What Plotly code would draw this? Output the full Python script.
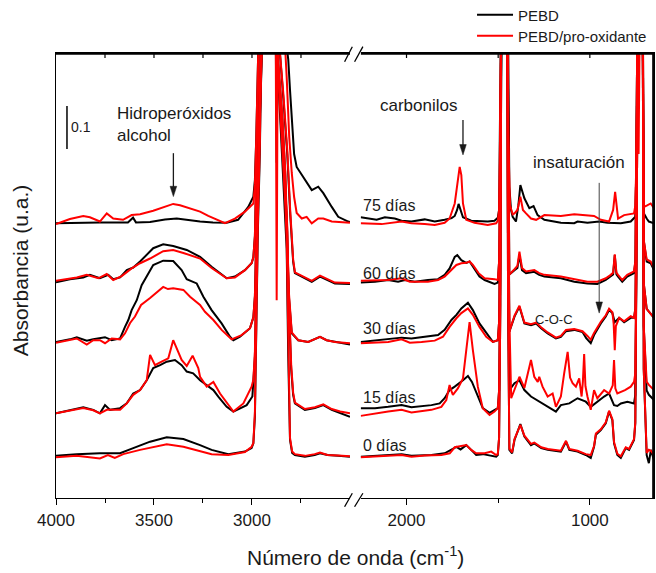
import plotly.graph_objects as go

FONT = "Liberation Sans, Arial, sans-serif"
INK = "#1a1a1a"

# FTIR spectra, (wavenumber cm-1, absorbance) with the vertical offsets of the stack
PEBD_0 = [
    (4000, 0.098), (3895, 0.102), (3776, 0.104), (3673, 0.104), (3606, 0.116), (3520, 0.131),
    (3435, 0.141), (3350, 0.137), (3265, 0.123), (3206, 0.112), (3121, 0.102), (3036, 0.108),
    (3002, 0.116), (2993, 0.127), (2985, 0.19), (2978, 0.42), (2970, 0.62), (2960, 0.80),
    (2950, 0.97), (2940, 1.2), (2920, 2.0), (2900, 1.8), (2885, 1.15), (2865, 0.97),
    (2845, 0.80), (2830, 0.66), (2823, 0.58), (2815, 0.33), (2806, 0.135), (2795, 0.105),
    (2781, 0.100), (2730, 0.096), (2680, 0.100), (2653, 0.104), (2615, 0.100), (2560, 0.098),
    (2500, 0.096),
    (2250, 0.096), (2170, 0.098), (2100, 0.100), (2027, 0.102), (1973, 0.098), (1864, 0.100),
    (1792, 0.104), (1755, 0.112), (1728, 0.119), (1705, 0.113), (1674, 0.123), (1647, 0.112),
    (1620, 0.100), (1584, 0.102), (1557, 0.100), (1511, 0.096), (1502, 0.100), (1495, 0.14),
    (1488, 0.45), (1482, 1.4), (1472, 2.2), (1466, 1.7), (1460, 2.2), (1452, 1.3), (1446, 0.45),
    (1439, 0.112), (1424, 0.104), (1411, 0.135), (1379, 0.172), (1357, 0.143), (1321, 0.123),
    (1303, 0.127), (1265, 0.116), (1230, 0.112), (1158, 0.108), (1130, 0.131), (1112, 0.112),
    (1067, 0.108), (1022, 0.100), (995, 0.093), (977, 0.119), (967, 0.147), (940, 0.158),
    (913, 0.174), (895, 0.201), (877, 0.181), (868, 0.127), (850, 0.100), (831, 0.093),
    (804, 0.116), (786, 0.112), (759, 0.135), (752, 0.174), (745, 0.6), (738, 1.4), (730, 1.6),
    (724, 1.3), (719, 2.0), (712, 1.2), (706, 0.3), (690, 0.100), (678, 0.081), (667, 0.112),
    (650, 0.088),
]
PRO_0 = [
    (4000, 0.095), (3895, 0.098), (3776, 0.092), (3735, 0.100), (3700, 0.093), (3657, 0.102),
    (3571, 0.112), (3486, 0.121), (3435, 0.125), (3350, 0.119), (3265, 0.110), (3206, 0.102),
    (3121, 0.100), (3036, 0.107), (3002, 0.119), (2993, 0.128), (2985, 0.20), (2978, 0.44),
    (2970, 0.64), (2960, 0.82), (2950, 0.99), (2940, 1.2), (2920, 2.0), (2900, 1.8),
    (2885, 1.15), (2865, 0.98), (2845, 0.82), (2830, 0.68), (2823, 0.60), (2815, 0.35),
    (2806, 0.14), (2795, 0.108), (2781, 0.102), (2730, 0.098), (2680, 0.102), (2653, 0.106),
    (2615, 0.100), (2560, 0.099), (2500, 0.097),
    (2250, 0.095), (2170, 0.097), (2100, 0.098), (2027, 0.100), (1973, 0.096), (1900, 0.099),
    (1810, 0.100), (1764, 0.104), (1737, 0.118), (1701, 0.121), (1674, 0.123), (1647, 0.112),
    (1620, 0.104), (1574, 0.104), (1538, 0.108), (1511, 0.100), (1502, 0.102), (1495, 0.14),
    (1488, 0.45), (1482, 1.4), (1472, 2.2), (1466, 1.7), (1460, 2.2), (1452, 1.3), (1446, 0.45),
    (1439, 0.115), (1424, 0.106), (1411, 0.137), (1379, 0.170), (1357, 0.145), (1321, 0.126),
    (1303, 0.129), (1265, 0.118), (1230, 0.114), (1158, 0.110), (1130, 0.133), (1112, 0.114),
    (1067, 0.110), (1022, 0.102), (995, 0.100), (977, 0.121), (967, 0.150), (940, 0.160),
    (913, 0.176), (895, 0.203), (877, 0.183), (868, 0.130), (850, 0.103), (831, 0.097),
    (804, 0.118), (786, 0.114), (759, 0.137), (752, 0.176), (745, 0.6), (738, 1.4), (730, 1.6),
    (724, 1.3), (719, 2.0), (712, 1.2), (706, 0.3), (690, 0.105), (678, 0.112), (667, 0.110),
    (650, 0.100),
]
PEBD_15 = [
    (4000, 0.197), (3929, 0.205), (3861, 0.211), (3810, 0.205), (3776, 0.197), (3750, 0.216),
    (3724, 0.205), (3673, 0.209), (3639, 0.220), (3606, 0.243), (3571, 0.251), (3537, 0.274),
    (3504, 0.302), (3469, 0.309), (3435, 0.317), (3393, 0.321), (3359, 0.309), (3333, 0.294),
    (3300, 0.290), (3265, 0.274), (3197, 0.251), (3172, 0.236), (3129, 0.212), (3095, 0.201),
    (3027, 0.216), (2998, 0.236), (2993, 0.267), (2985, 0.33), (2978, 0.52), (2970, 0.72),
    (2960, 0.88), (2950, 1.02), (2940, 1.2), (2920, 2.0), (2900, 1.8), (2885, 1.15),
    (2865, 1.0), (2845, 0.85), (2830, 0.72), (2820, 0.62), (2812, 0.45), (2800, 0.30),
    (2790, 0.24), (2781, 0.220), (2730, 0.205), (2679, 0.209), (2636, 0.216), (2593, 0.205),
    (2550, 0.198), (2500, 0.189),
    (2250, 0.209), (2172, 0.209), (2100, 0.212), (2027, 0.216), (1973, 0.211), (1864, 0.216),
    (1819, 0.220), (1792, 0.232), (1765, 0.251), (1737, 0.259), (1692, 0.274), (1665, 0.284),
    (1643, 0.270), (1611, 0.236), (1584, 0.209), (1547, 0.198), (1520, 0.205), (1502, 0.209),
    (1495, 0.25), (1488, 0.55), (1482, 1.4), (1472, 2.2), (1466, 1.7), (1460, 2.2), (1452, 1.3),
    (1446, 0.55), (1439, 0.251), (1411, 0.267), (1384, 0.274), (1357, 0.251), (1321, 0.236),
    (1276, 0.224), (1230, 0.212), (1185, 0.201), (1158, 0.216), (1112, 0.220), (1067, 0.232),
    (1022, 0.224), (995, 0.212), (959, 0.224), (922, 0.236), (895, 0.243), (868, 0.216),
    (850, 0.214), (831, 0.220), (795, 0.224), (759, 0.220), (752, 0.24), (745, 0.6), (738, 1.4),
    (730, 1.6), (724, 1.3), (719, 2.0), (712, 1.2), (706, 0.4), (690, 0.25), (678, 0.240),
    (650, 0.228),
]
PRO_15 = [
    (4000, 0.197), (3930, 0.203), (3861, 0.209), (3810, 0.204), (3776, 0.197), (3741, 0.205),
    (3673, 0.205), (3639, 0.220), (3606, 0.240), (3571, 0.251), (3537, 0.274), (3520, 0.333),
    (3495, 0.309), (3461, 0.317), (3427, 0.325), (3402, 0.367), (3378, 0.340), (3359, 0.321),
    (3333, 0.307), (3303, 0.331), (3274, 0.302), (3265, 0.282), (3231, 0.259), (3197, 0.270),
    (3163, 0.243), (3095, 0.201), (3044, 0.220), (3002, 0.259), (2993, 0.275), (2985, 0.34),
    (2978, 0.53), (2970, 0.73), (2960, 0.89), (2950, 1.03), (2940, 1.2), (2920, 2.0),
    (2900, 1.8), (2885, 1.15), (2865, 1.0), (2845, 0.86), (2830, 0.73), (2820, 0.63),
    (2812, 0.46), (2800, 0.31), (2790, 0.245), (2781, 0.222), (2730, 0.207), (2679, 0.211),
    (2636, 0.218), (2593, 0.207), (2550, 0.201), (2500, 0.197),
    (2250, 0.191), (2172, 0.197), (2100, 0.201), (2027, 0.205), (1973, 0.199), (1864, 0.205),
    (1810, 0.212), (1783, 0.228), (1770, 0.256), (1765, 0.263), (1757, 0.251), (1747, 0.240),
    (1720, 0.255), (1692, 0.278), (1674, 0.344), (1656, 0.409), (1638, 0.344), (1611, 0.259),
    (1584, 0.209), (1547, 0.193), (1520, 0.201), (1502, 0.209), (1495, 0.25), (1488, 0.55),
    (1482, 1.4), (1472, 2.2), (1466, 1.7), (1460, 2.2), (1452, 1.3), (1446, 0.55), (1429, 0.232),
    (1384, 0.282), (1357, 0.256), (1321, 0.321), (1303, 0.282), (1284, 0.270), (1276, 0.282),
    (1258, 0.259), (1230, 0.236), (1203, 0.243), (1185, 0.212), (1158, 0.236), (1140, 0.290),
    (1121, 0.340), (1108, 0.280), (1094, 0.267), (1076, 0.259), (1058, 0.278), (1045, 0.236),
    (1038, 0.270), (1031, 0.335), (1024, 0.260), (1013, 0.236), (995, 0.205), (977, 0.251),
    (959, 0.232), (922, 0.251), (895, 0.243), (875, 0.262), (868, 0.321), (861, 0.255),
    (850, 0.243), (808, 0.251), (777, 0.259), (759, 0.270), (752, 0.29), (745, 0.6), (738, 1.4),
    (730, 1.6), (724, 1.3), (719, 2.0), (712, 1.2), (706, 0.4), (690, 0.27), (678, 0.263),
    (650, 0.251),
]
PEBD_30 = [
    (4000, 0.363), (3929, 0.369), (3894, 0.374), (3843, 0.366), (3810, 0.369), (3750, 0.374),
    (3716, 0.367), (3673, 0.371), (3648, 0.398), (3631, 0.414), (3614, 0.437), (3588, 0.460),
    (3563, 0.495), (3537, 0.515), (3504, 0.542), (3453, 0.552), (3402, 0.551), (3359, 0.530),
    (3333, 0.509), (3282, 0.499), (3265, 0.484), (3248, 0.468), (3206, 0.437), (3155, 0.406),
    (3112, 0.375), (3095, 0.367), (3061, 0.375), (3010, 0.395), (2993, 0.42), (2985, 0.47),
    (2978, 0.62), (2970, 0.80), (2960, 0.95), (2950, 1.08), (2940, 1.25), (2920, 2.0),
    (2900, 1.8), (2885, 1.15), (2865, 1.0), (2845, 0.88), (2830, 0.75), (2823, 0.62),
    (2812, 0.47), (2797, 0.383), (2764, 0.367), (2713, 0.363), (2653, 0.375), (2619, 0.367),
    (2577, 0.363), (2500, 0.357),
    (2250, 0.363), (2172, 0.367), (2100, 0.371), (2027, 0.373), (1973, 0.371), (1883, 0.375),
    (1828, 0.379), (1792, 0.391), (1755, 0.414), (1728, 0.426), (1701, 0.441), (1665, 0.454),
    (1638, 0.437), (1602, 0.406), (1565, 0.383), (1529, 0.363), (1502, 0.367), (1495, 0.41),
    (1488, 0.7), (1482, 1.4), (1472, 2.2), (1466, 1.7), (1460, 2.2), (1452, 1.3), (1446, 0.7),
    (1439, 0.387), (1411, 0.422), (1384, 0.445), (1357, 0.406), (1321, 0.402), (1293, 0.406),
    (1266, 0.395), (1230, 0.383), (1185, 0.371), (1158, 0.375), (1130, 0.388), (1085, 0.391),
    (1040, 0.386), (1020, 0.372), (995, 0.360), (977, 0.379), (940, 0.406), (913, 0.422),
    (895, 0.437), (877, 0.430), (864, 0.409), (840, 0.419), (813, 0.409), (777, 0.419),
    (759, 0.419), (752, 0.44), (745, 0.7), (738, 1.4), (730, 1.6), (724, 1.3), (719, 2.0),
    (712, 1.2), (706, 0.5), (690, 0.44), (678, 0.433), (650, 0.419),
]
PRO_30 = [
    (4000, 0.361), (3894, 0.371), (3843, 0.357), (3810, 0.367), (3776, 0.367), (3750, 0.360),
    (3716, 0.371), (3673, 0.369), (3648, 0.383), (3622, 0.407), (3597, 0.422), (3566, 0.449),
    (3520, 0.465), (3453, 0.491), (3429, 0.486), (3402, 0.488), (3350, 0.484), (3316, 0.468),
    (3265, 0.449), (3240, 0.433), (3197, 0.414), (3155, 0.391), (3104, 0.369), (3053, 0.379),
    (3010, 0.395), (2993, 0.42), (2985, 0.47), (2978, 0.63), (2970, 0.81), (2960, 0.96),
    (2950, 1.09), (2940, 1.25), (2920, 2.0), (2900, 1.8), (2885, 1.3), (2879, 1.1),
    (2874, 0.46), (2869, 1.05), (2865, 1.01), (2845, 0.89), (2830, 0.76), (2823, 0.63),
    (2812, 0.48), (2797, 0.385), (2764, 0.367), (2713, 0.363), (2653, 0.375), (2619, 0.367),
    (2577, 0.363), (2500, 0.360),
    (2250, 0.360), (2172, 0.361), (2100, 0.363), (2027, 0.369), (1982, 0.361), (1918, 0.363),
    (1846, 0.366), (1801, 0.375), (1765, 0.398), (1728, 0.418), (1701, 0.430), (1665, 0.441),
    (1638, 0.426), (1602, 0.398), (1565, 0.375), (1529, 0.363), (1502, 0.367), (1495, 0.41),
    (1488, 0.7), (1482, 1.4), (1472, 2.2), (1466, 1.7), (1460, 2.2), (1452, 1.3), (1446, 0.7),
    (1439, 0.387), (1411, 0.424), (1384, 0.447), (1357, 0.408), (1321, 0.404), (1293, 0.408),
    (1266, 0.397), (1230, 0.385), (1185, 0.373), (1158, 0.377), (1130, 0.391), (1085, 0.393),
    (1040, 0.388), (1013, 0.377), (995, 0.368), (977, 0.384), (940, 0.410), (913, 0.425),
    (895, 0.440), (877, 0.432), (870, 0.405), (864, 0.344), (858, 0.400), (840, 0.419),
    (813, 0.411), (777, 0.423), (759, 0.419), (752, 0.44), (745, 0.7), (738, 1.4), (730, 1.6),
    (724, 1.3), (719, 2.0), (712, 1.2), (706, 0.5), (690, 0.44), (678, 0.433), (650, 0.419),
]
PEBD_60 = [
    (4000, 0.502), (3929, 0.509), (3861, 0.513), (3827, 0.519), (3776, 0.511), (3733, 0.519),
    (3708, 0.509), (3673, 0.513), (3639, 0.530), (3606, 0.536), (3571, 0.550), (3537, 0.565),
    (3504, 0.581), (3453, 0.590), (3402, 0.586), (3333, 0.577), (3265, 0.561), (3206, 0.538),
    (3129, 0.511), (3087, 0.515), (3036, 0.530), (3002, 0.546), (2993, 0.56), (2985, 0.61),
    (2978, 0.74), (2970, 0.90), (2960, 1.03), (2950, 1.2), (2920, 2.0), (2900, 1.8),
    (2880, 1.2), (2860, 1.05), (2840, 0.93), (2820, 0.80), (2805, 0.66), (2797, 0.60),
    (2790, 0.55), (2781, 0.523), (2746, 0.515), (2695, 0.503), (2653, 0.515), (2619, 0.507),
    (2577, 0.499), (2500, 0.498),
    (2250, 0.501), (2172, 0.503), (2100, 0.507), (2046, 0.503), (2009, 0.507), (1955, 0.503),
    (1883, 0.507), (1828, 0.509), (1792, 0.519), (1765, 0.534), (1737, 0.561), (1723, 0.565),
    (1701, 0.553), (1674, 0.547), (1656, 0.550), (1629, 0.534), (1602, 0.515), (1574, 0.507),
    (1547, 0.503), (1520, 0.498), (1502, 0.501), (1495, 0.55), (1488, 0.8), (1482, 1.4),
    (1472, 2.2), (1466, 1.7), (1460, 2.2), (1452, 1.3), (1446, 0.8), (1439, 0.520),
    (1411, 0.530), (1395, 0.535), (1384, 0.565), (1370, 0.530), (1348, 0.523), (1303, 0.526),
    (1276, 0.519), (1248, 0.515), (1158, 0.511), (1085, 0.503), (1013, 0.499), (959, 0.498),
    (913, 0.507), (886, 0.515), (873, 0.520), (864, 0.565), (855, 0.520), (846, 0.515),
    (823, 0.503), (796, 0.515), (759, 0.523), (752, 0.55), (745, 0.8), (738, 1.4), (730, 1.6),
    (724, 1.3), (719, 2.0), (712, 1.2), (706, 0.6), (690, 0.55), (668, 0.546), (650, 0.530),
]
PRO_60 = [
    (4000, 0.505), (3894, 0.513), (3843, 0.519), (3784, 0.511), (3741, 0.521), (3708, 0.507),
    (3665, 0.516), (3614, 0.534), (3571, 0.546), (3520, 0.557), (3453, 0.574), (3402, 0.577),
    (3350, 0.570), (3265, 0.557), (3206, 0.535), (3129, 0.511), (3087, 0.513), (3036, 0.530),
    (3002, 0.546), (2993, 0.56), (2985, 0.61), (2978, 0.75), (2970, 0.91), (2960, 1.04),
    (2950, 1.2), (2920, 2.0), (2900, 1.8), (2880, 1.2), (2860, 1.05), (2840, 0.94),
    (2820, 0.81), (2805, 0.67), (2797, 0.61), (2790, 0.555), (2781, 0.525), (2746, 0.517),
    (2695, 0.505), (2653, 0.517), (2619, 0.509), (2577, 0.501), (2500, 0.500),
    (2250, 0.505), (2100, 0.507), (2027, 0.511), (1982, 0.503), (1883, 0.503), (1828, 0.507),
    (1792, 0.515), (1765, 0.526), (1728, 0.542), (1701, 0.546), (1674, 0.547), (1656, 0.550),
    (1638, 0.542), (1607, 0.523), (1574, 0.511), (1520, 0.509), (1502, 0.507), (1495, 0.55),
    (1488, 0.8), (1482, 1.4), (1472, 2.2), (1466, 1.7), (1460, 2.2), (1452, 1.3), (1446, 0.8),
    (1439, 0.520), (1411, 0.532), (1395, 0.540), (1384, 0.573), (1370, 0.535), (1348, 0.527),
    (1303, 0.530), (1276, 0.523), (1248, 0.519), (1158, 0.515), (1085, 0.509), (1013, 0.503),
    (959, 0.503), (913, 0.511), (886, 0.519), (873, 0.524), (864, 0.567), (855, 0.524),
    (846, 0.519), (823, 0.507), (796, 0.519), (759, 0.527), (752, 0.55), (745, 0.8), (738, 1.4),
    (730, 1.6), (724, 1.3), (719, 2.0), (712, 1.2), (706, 0.6), (690, 0.555), (668, 0.550),
    (650, 0.535),
]
PEBD_75 = [
    (4000, 0.639), (3878, 0.641), (3776, 0.641), (3673, 0.641), (3633, 0.641), (3607, 0.652),
    (3592, 0.641), (3520, 0.642), (3444, 0.648), (3384, 0.650), (3316, 0.645), (3265, 0.643),
    (3199, 0.641), (3129, 0.640), (3071, 0.647), (3019, 0.677), (2993, 0.701), (2985, 0.74),
    (2978, 0.84), (2970, 0.97), (2960, 1.1), (2950, 1.3), (2920, 2.0), (2900, 1.8),
    (2882, 1.3), (2874, 0.78), (2866, 1.25), (2850, 1.15), (2830, 1.08), (2815, 1.02),
    (2806, 0.949), (2797, 0.879), (2785, 0.80), (2772, 0.770), (2730, 0.740), (2695, 0.716),
    (2662, 0.724), (2636, 0.709), (2593, 0.677), (2560, 0.654), (2509, 0.643), (2500, 0.642),
    (2250, 0.653), (2190, 0.648), (2163, 0.647), (2118, 0.653), (2064, 0.650), (2027, 0.645),
    (1973, 0.643), (1901, 0.648), (1846, 0.643), (1792, 0.647), (1754, 0.651), (1737, 0.656),
    (1724, 0.670), (1716, 0.684), (1706, 0.670), (1692, 0.653), (1647, 0.645), (1557, 0.643),
    (1520, 0.645), (1502, 0.652), (1495, 0.67), (1488, 0.9), (1482, 1.4), (1472, 2.2),
    (1466, 1.7), (1460, 2.2), (1450, 1.3), (1443, 0.85), (1439, 0.724), (1430, 0.670),
    (1421, 0.654), (1403, 0.643), (1390, 0.680), (1379, 0.728), (1357, 0.697), (1330, 0.674),
    (1307, 0.679), (1285, 0.658), (1248, 0.647), (1158, 0.640), (1085, 0.639), (1067, 0.643),
    (1013, 0.640), (949, 0.643), (904, 0.640), (831, 0.639), (777, 0.643), (752, 0.654),
    (745, 0.8), (738, 1.4), (730, 1.6), (724, 1.3), (719, 2.0), (712, 1.2), (705, 0.662),
    (690, 0.650), (678, 0.643), (650, 0.639),
]
PRO_75 = [
    (4000, 0.637), (3929, 0.649), (3861, 0.656), (3827, 0.653), (3776, 0.643), (3741, 0.662),
    (3708, 0.650), (3658, 0.647), (3614, 0.658), (3571, 0.660), (3504, 0.668), (3435, 0.680),
    (3402, 0.684), (3367, 0.681), (3316, 0.674), (3265, 0.666), (3223, 0.656), (3138, 0.639),
    (3087, 0.650), (3036, 0.666), (2993, 0.685), (2985, 0.73), (2978, 0.84), (2970, 0.97),
    (2960, 1.1), (2950, 1.3), (2920, 2.0), (2900, 1.8), (2870, 1.2), (2850, 1.1), (2830, 1.04),
    (2823, 0.98), (2810, 0.84), (2797, 0.756), (2785, 0.700), (2772, 0.663), (2746, 0.650),
    (2721, 0.654), (2695, 0.639), (2662, 0.650), (2636, 0.650), (2593, 0.643), (2509, 0.640),
    (2500, 0.640),
    (2250, 0.639), (2136, 0.637), (2027, 0.643), (1973, 0.639), (1901, 0.637), (1846, 0.635),
    (1792, 0.640), (1765, 0.650), (1737, 0.685), (1724, 0.728), (1710, 0.770), (1701, 0.751),
    (1692, 0.685), (1674, 0.647), (1629, 0.640), (1557, 0.635), (1511, 0.639), (1502, 0.645),
    (1495, 0.67), (1488, 0.9), (1482, 1.4), (1472, 2.2), (1466, 1.7), (1460, 2.2), (1452, 1.3),
    (1446, 0.85), (1435, 0.680), (1421, 0.660), (1411, 0.662), (1395, 0.670), (1379, 0.701),
    (1365, 0.670), (1348, 0.662), (1321, 0.650), (1293, 0.647), (1248, 0.658), (1158, 0.656),
    (1085, 0.660), (977, 0.656), (940, 0.647), (895, 0.643), (873, 0.670), (862, 0.712),
    (853, 0.681), (846, 0.650), (813, 0.658), (759, 0.662), (752, 0.68), (748, 0.75), (740, 0.98),
    (734, 0.80), (728, 1.1), (720, 2.0), (712, 1.2), (705, 0.677), (690, 0.680), (668, 0.685),
    (650, 0.674),
]

DAY_LABELS = ["0 días", "15 días", "30 días", "60 días", "75 días"]
SERIES = [
    ("PEBD", "#000000", "legend", [PEBD_0, PEBD_15, PEBD_30, PEBD_60, PEBD_75]),
    ("PEBD/pro-oxidante", "#ff0000", "legend2", [PRO_0, PRO_15, PRO_30, PRO_60, PRO_75]),
]

LEFT_RANGE = [4000, 2500]
RIGHT_RANGE = [2250, 650]
Y_RANGE = [0, 1.035]
LEFT_TOP_TICKS = [3750, 3500, 3250, 3000, 2750]
RIGHT_TOP_TICKS = [2000, 1500, 1000]

fig = go.Figure()
for name, color, leg, spectra in SERIES:
    for i, spec in enumerate(spectra):
        left = [p for p in spec if p[0] >= LEFT_RANGE[1]]
        right = [p for p in spec if p[0] <= RIGHT_RANGE[0]]
        fig.add_trace(go.Scatter(
            x=[p[0] for p in left], y=[p[1] for p in left], xaxis="x", yaxis="y",
            mode="lines", line=dict(color=color, width=2), name=name, legend=leg,
            legendgroup=name, showlegend=(i == 0), hoverinfo="skip"))
        fig.add_trace(go.Scatter(
            x=[p[0] for p in right], y=[p[1] for p in right], xaxis="x2", yaxis="y2",
            mode="lines", line=dict(color=color, width=2), name=name, legend=leg,
            legendgroup=name, showlegend=False, hoverinfo="skip"))

# frame edges along the top of both panels and the right side, drawn just inside the
# plot area so they are never lost to clipping
FRAME_LINE = dict(color="black", width=1.8)
TOP_EDGE = Y_RANGE[1] - 0.0022
RIGHT_EDGE = RIGHT_RANGE[1] + 5
fig.add_trace(go.Scatter(x=LEFT_RANGE, y=[TOP_EDGE, TOP_EDGE], xaxis="x", yaxis="y",
                         mode="lines", line=FRAME_LINE, showlegend=False, hoverinfo="skip"))
fig.add_trace(go.Scatter(x=RIGHT_RANGE, y=[TOP_EDGE, TOP_EDGE], xaxis="x2", yaxis="y2",
                         mode="lines", line=FRAME_LINE, showlegend=False, hoverinfo="skip"))
fig.add_trace(go.Scatter(x=[RIGHT_EDGE, RIGHT_EDGE], y=Y_RANGE, xaxis="x2",
                         yaxis="y2", mode="lines", line=FRAME_LINE, showlegend=False,
                         hoverinfo="skip"))

# plot area 56..654 px wide (598 px); the break sits between the two domains
LEFT_DOM = [0, 0.4916]
RIGHT_DOM = [0.5095, 1]
axis_common = dict(showline=True, linecolor="black", linewidth=1.3, showgrid=False,
                   zeroline=False, tickcolor="black", tickwidth=1.2,
                   tickfont=dict(family=FONT, size=17, color=INK))
legend_common = dict(xanchor="left", yanchor="middle", bgcolor="rgba(0,0,0,0)",
                     font=dict(family=FONT, size=15, color=INK), itemwidth=36)

fig.update_layout(
    width=656, height=573,
    margin=dict(l=56, r=2, t=53, b=75, autoexpand=False),
    paper_bgcolor="white", plot_bgcolor="white",
    font=dict(family=FONT, color=INK),
    xaxis=dict(domain=LEFT_DOM, range=LEFT_RANGE, anchor="y", tickvals=[4000, 3500, 3000],
               ticks="outside", ticklen=6, mirror=True,
               minor=dict(tickvals=[3750, 3250, 2750], ticks="outside", ticklen=4,
                          tickcolor="black", tickwidth=1.2),
               **axis_common),
    xaxis2=dict(domain=RIGHT_DOM, range=RIGHT_RANGE, anchor="y2", tickvals=[2000, 1000],
                ticks="outside", ticklen=6, mirror=True,
                minor=dict(tickvals=[1500], ticks="outside", ticklen=4,
                           tickcolor="black", tickwidth=1.2),
                **axis_common),
    yaxis=dict(domain=[0, 1], range=Y_RANGE, anchor="x", showticklabels=False, ticks="",
               **axis_common),
    yaxis2=dict(domain=[0, 1], range=Y_RANGE, anchor="x2", side="right",
                showticklabels=False, ticks="", **axis_common),
    legend=dict(x=0.6957, y=1.0854, **legend_common),
    legend2=dict(x=0.6957, y=1.0382, **legend_common),
    showlegend=True,
)

annotations = []
# sample ages
DAY_POS = [0.123, 0.234, 0.395, 0.523, 0.681]
for lab, yv in zip(DAY_LABELS, DAY_POS):
    annotations.append(dict(x=2246, y=yv, xref="x2", yref="y2", text=lab, showarrow=False,
                            xanchor="left", yanchor="middle",
                            font=dict(family=FONT, size=16, color=INK)))
annotations += [
    dict(x=3700, y=0.868, xref="x", yref="y", text="Hidroperóxidos<br>alcohol",
         showarrow=False, xanchor="left", yanchor="middle", align="left",
         font=dict(family=FONT, size=17, color=INK)),
    dict(x=1933, y=0.912, xref="x2", yref="y2", text="carbonilos", showarrow=False,
         xanchor="center", yanchor="middle", font=dict(family=FONT, size=17, color=INK)),
    dict(x=1058, y=0.780, xref="x2", yref="y2", text="insaturación", showarrow=False,
         xanchor="center", yanchor="middle", font=dict(family=FONT, size=17, color=INK)),
    dict(x=1196, y=0.416, xref="x2", yref="y2", text="C-O-C", showarrow=False,
         xanchor="center", yanchor="middle", font=dict(family=FONT, size=13, color=INK)),
    dict(x=3936, y=0.862, xref="x", yref="y", text="0.1", showarrow=False,
         xanchor="left", yanchor="middle", font=dict(family=FONT, size=14, color=INK)),
    dict(x=0.5, y=-0.13, xref="paper", yref="paper", text="Número de onda (cm<sup>-1</sup>)",
         showarrow=False, xanchor="center", yanchor="middle",
         font=dict(family=FONT, size=21, color=INK)),
    dict(x=-0.06, y=0.512, xref="paper", yref="paper", text="Absorbancia (u.a.)",
         showarrow=False, textangle=-90, xanchor="center", yanchor="middle",
         font=dict(family=FONT, size=21, color=INK)),
]
fig.update_layout(annotations=annotations)

shapes = []
# 0.1 absorbance scale bar
shapes.append(dict(type="line", xref="x", yref="y", x0=3944, x1=3944, y0=0.812, y1=0.912,
                   line=dict(color="black", width=1.5)))


def down_arrow(xref, yref, xc, tip, tail, half_w, head_h, color, width):
    """Vertical arrow pointing down to (xc, tip) in data coordinates."""
    return [
        dict(type="line", xref=xref, yref=yref, x0=xc, x1=xc, y0=tail, y1=tip + head_h * 0.6,
             line=dict(color=color, width=width)),
        dict(type="path", xref=xref, yref=yref,
             path=f"M {xc - half_w},{tip + head_h} L {xc + half_w},{tip + head_h} L {xc},{tip} Z",
             fillcolor=INK, line=dict(color=INK, width=0.5)),
    ]


shapes += down_arrow("x", "y", 3401, 0.701, 0.802, 17, 0.024, INK, 1.3)
shapes += down_arrow("x2", "y2", 1692, 0.798, 0.879, 18, 0.024, INK, 1.3)
shapes += down_arrow("x2", "y2", 949, 0.430, 0.733, 18, 0.026, "#444444", 1.0)

# short inward ticks along the top edge
TOP_TICK = 5 / 445
for xref, ticks in [("x", LEFT_TOP_TICKS), ("x2", RIGHT_TOP_TICKS)]:
    for t in ticks:
        shapes.append(dict(type="line", xref=xref, yref="paper", x0=t, x1=t, y0=1,
                           y1=1 - TOP_TICK, line=dict(color="black", width=1.2)))

# axis break marks on the bottom and top frame
for y0, y1 in [(-0.0196, 0.0106), (0.9804, 1.0142)]:
    for x0, x1 in [(0.4826, 0.4955), (0.4993, 0.5132)]:
        shapes.append(dict(type="line", xref="paper", yref="paper", x0=x0, x1=x1, y0=y0, y1=y1,
                           line=dict(color="black", width=1.3)))
fig.update_layout(shapes=shapes)

fig.write_html("out.html")
